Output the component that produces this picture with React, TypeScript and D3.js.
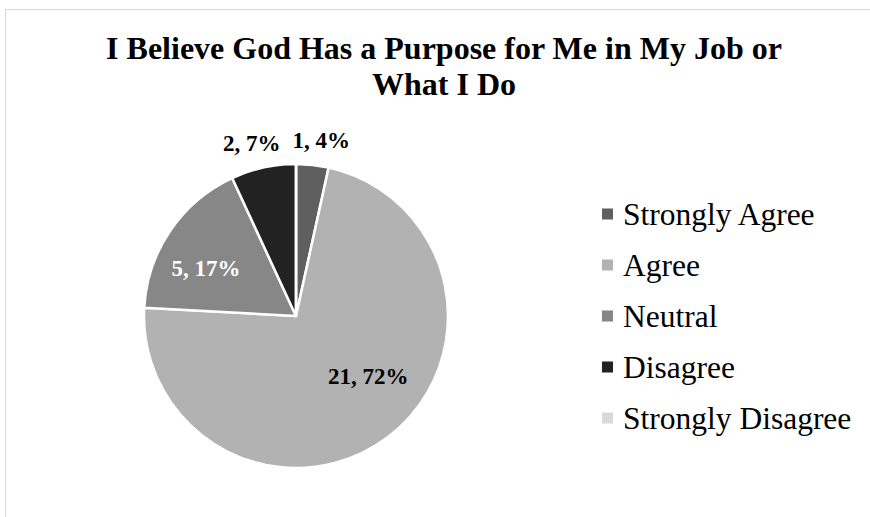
import { useMemo } from 'react';
import * as d3 from 'd3';

interface Slice {
  name: string;
  value: number;
  label: string;
  color: string;
}

const categories = ['Strongly Agree', 'Agree', 'Neutral', 'Disagree', 'Strongly Disagree'];
const counts = [1, 21, 5, 2, 0];
const percentLabels = ['4%', '72%', '17%', '7%', '0%'];
const sliceColors = ['#5f5f5f', '#b2b2b2', '#878787', '#222222', '#d9d9d9'];
const labelColors = ['#000000', '#000000', '#ffffff', '#000000', '#000000'];
const titleLines = ['I Believe God Has a Purpose for Me in My Job or', 'What I Do'];

const W = 870;
const H = 517;
const cx = 296;
const cy = 316;
const radius = 152;
const labelSize = 23;
const serif = '"Liberation Serif", "Times New Roman", serif';

interface LabelPos {
  a: d3.PieArcDatum<Slice>;
  x: number;
  y: number;
  w: number;
  outside: boolean;
}

const App = () => {
  const slices = useMemo<Slice[]>(
    () =>
      categories.map((name, i) => ({
        name,
        value: counts[i],
        label: `${counts[i]}, ${percentLabels[i]}`,
        color: sliceColors[i],
      })),
    []
  );

  const arcs = useMemo(() => d3.pie<Slice>().sort(null).value((d) => d.value)(slices), [slices]);
  const arcGen = d3.arc<d3.PieArcDatum<Slice>>().innerRadius(0).outerRadius(radius);
  const total = d3.sum(counts);

  // best-fit style placement: small slices outside, big ones inside (nudged back a little)
  const labels = useMemo(() => {
    const out: LabelPos[] = arcs
      .filter((a) => a.data.value > 0)
      .map((a) => {
        const mid = (a.startAngle + a.endAngle) / 2;
        const outside = a.data.value / total < 0.1;
        const ang = outside ? mid : mid - 0.17;
        const r = outside ? radius + 25 : radius * 0.65;
        // rough text width for bold Times
        const w = a.data.label.length * labelSize * 0.5;
        return { a, x: Math.sin(ang) * r, y: -Math.cos(ang) * r - (outside ? 0 : 7), w, outside };
      });
    // push overlapping outside labels apart horizontally
    const outer = out.filter((l) => l.outside).sort((p, q) => p.x - q.x);
    for (let i = 1; i < outer.length; i++) {
      const p = outer[i - 1];
      const q = outer[i];
      const gap = q.x - q.w / 2 - (p.x + p.w / 2);
      if (gap < 12) {
        const push = (12 - gap) / 2;
        p.x -= push;
        q.x += push;
      }
    }
    return out;
  }, [arcs, total]);

  // legend layout
  const legendY = d3.scalePoint<string>().domain(categories).range([214, 418]);

  return (
    <svg width={W} height={H} style={{ position: 'absolute', left: 0, top: 0, display: 'block' }}>
      <rect x={0} y={0} width={W} height={H} fill="#ffffff" />
      <rect x={5.5} y={9.5} width={W + 20} height={H + 20} fill="#ffffff" stroke="#d9d9d9" strokeWidth={1} />

      {/* title */}
      <text textAnchor="middle" style={{ fontFamily: serif, fontWeight: 'bold', fontSize: 32 }} fill="#000000">
        {titleLines.map((t, i) => (
          <tspan key={t} x={444} y={59 + i * 36}>
            {t}
          </tspan>
        ))}
      </text>

      {/* slices */}
      <g transform={`translate(${cx}, ${cy})`}>
        {arcs.map((a) => (
          <path
            key={a.data.name}
            d={arcGen(a) || undefined}
            fill={a.data.color}
            stroke="#ffffff"
            strokeWidth={2.5}
            strokeLinejoin="round"
          />
        ))}
        {labels.map((l) => (
          <text
            key={l.a.data.name}
            x={l.x}
            y={l.y}
            dy="0.35em"
            textAnchor="middle"
            fill={labelColors[l.a.index]}
            style={{ fontFamily: serif, fontWeight: 'bold', fontSize: labelSize }}
          >
            {l.a.data.label}
          </text>
        ))}
      </g>

      {/* legend */}
      {categories.map((c, i) => (
        <g key={c} transform={`translate(602, ${legendY(c)})`}>
          <rect x={0} y={-5.5} width={11} height={11} fill={sliceColors[i]} />
          <text x={21} y={0} dy="0.36em" style={{ fontFamily: serif, fontSize: 31.5 }} fill="#000000">
            {c}
          </text>
        </g>
      ))}
    </svg>
  );
};

export default App;
